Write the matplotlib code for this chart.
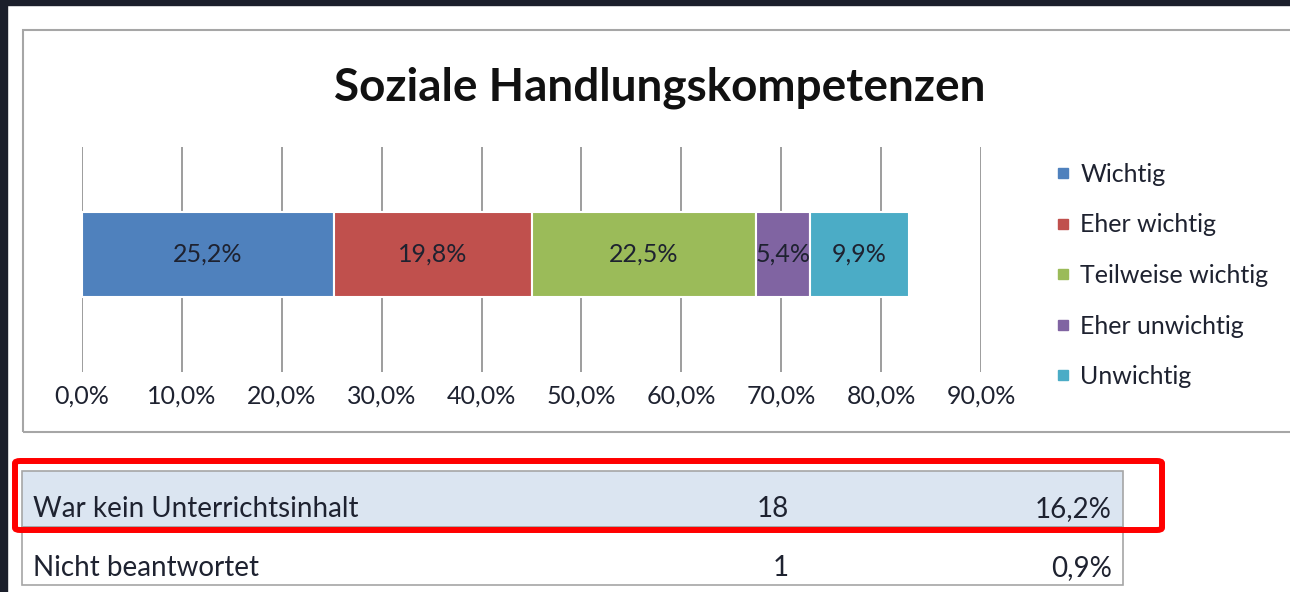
import matplotlib
matplotlib.use("Agg")
import matplotlib.pyplot as plt
from matplotlib.patches import Rectangle, FancyBboxPatch
from matplotlib.lines import Line2D

# ---- data ----
title = "Soziale Handlungskompetenzen"
categories = ["Wichtig", "Eher wichtig", "Teilweise wichtig", "Eher unwichtig", "Unwichtig"]
values = [25.2, 19.8, 22.5, 5.4, 9.9]
value_labels = ["25,2%", "19,8%", "22,5%", "5,4%", "9,9%"]
colors = ["#4F81BD", "#C0504D", "#9BBB59", "#8064A2", "#4BACC6"]
xticks = [0, 10, 20, 30, 40, 50, 60, 70, 80, 90]
xtick_labels = ["0,0%", "10,0%", "20,0%", "30,0%", "40,0%", "50,0%", "60,0%", "70,0%", "80,0%", "90,0%"]
table_labels = ["War kein Unterrichtsinhalt", "Nicht beantwortet"]
table_counts = ["18", "1"]
table_pcts = ["16,2%", "0,9%"]

plt.rcParams['font.family'] = ['Lato', 'DejaVu Sans']
W, H = 1290, 592
fig = plt.figure(figsize=(W / 100, H / 100), dpi=100)
fig.patch.set_facecolor("white")

def fx(x): return x / W
def fy(y): return 1 - y / H

txt_col = "#1e2230"

# dark frame of screenshot
fig.patches.append(Rectangle((0, 0), fx(7), 1, transform=fig.transFigure, color="#1b1f2b", zorder=0))
fig.patches.append(Rectangle((0, fy(5)), 1, 1 - fy(5), transform=fig.transFigure, color="#1b1f2b", zorder=0))

# chart frame
fig.patches.append(Rectangle((fx(23), fy(432)), fx(1300) - fx(23), fy(30) - fy(432),
                             transform=fig.transFigure, facecolor="none", edgecolor="#a6a6a6",
                             linewidth=1.5, zorder=1))

# title
fig.text(fx(660), fy(88), title, ha="center", va="center", fontsize=33, fontweight="bold", color="#111111")

# bar axes
ax = fig.add_axes([fx(82), fy(372), fx(981) - fx(82), fy(147) - fy(372)])
ax.set_xlim(0, 90)
ax.set_ylim(-0.5, 0.5)
left = 0
for v, lab, c, cat in zip(values, value_labels, colors, categories):
    ax.barh(0.022, v, left=left, height=0.378, color=c, edgecolor="white", linewidth=1.5,
            label=cat, zorder=3)
    ax.text(left + v / 2, 0.022, lab, ha="center", va="center", fontsize=18, color=txt_col, zorder=4)
    left += v
ax.set_xticks(xticks)
ax.set_xticklabels(xtick_labels, fontsize=18, color=txt_col)
ax.set_yticks([])
ax.tick_params(axis="x", length=0, pad=9)
ax.grid(axis="x", color="#8c8c8c", linewidth=1.2, zorder=0)
for s in ax.spines.values():
    s.set_visible(False)
ax.patch.set_alpha(0)

# legend
handles = [Line2D([], [], marker="s", linestyle="none", markersize=7, markerfacecolor=c,
                  markeredgecolor=c) for c in colors]
fig.legend(handles, categories, loc="upper left", bbox_to_anchor=(fx(1054), fy(163)),
           frameon=False, fontsize=18, labelspacing=1.1, handletextpad=0.35, handlelength=0.7,
           labelcolor=txt_col, borderpad=0, borderaxespad=0)

# table
row_tops = [471, 527]
row_bottoms = [527, 585]
text_y = [509, 568]
fills = ["#dbe5f1", "white"]
for i in range(2):
    fig.patches.append(Rectangle((fx(22), fy(row_bottoms[i])), fx(1123) - fx(22),
                                 fy(row_tops[i]) - fy(row_bottoms[i]), transform=fig.transFigure,
                                 facecolor=fills[i], edgecolor="#a6a6a6", linewidth=1.2, zorder=1))
    yc = fy(text_y[i])
    fig.text(fx(33), yc, table_labels[i], ha="left", va="center", fontsize=20, color=txt_col)
    fig.text(fx(789), yc, table_counts[i], ha="right", va="center", fontsize=20, color=txt_col)
    fig.text(fx(1112), yc, table_pcts[i], ha="right", va="center", fontsize=20, color=txt_col)

# red highlight box
fig.patches.append(FancyBboxPatch((fx(15), fy(530)), fx(1162) - fx(15), fy(461) - fy(530),
                                  boxstyle="round,pad=0,rounding_size=0.004", transform=fig.transFigure,
                                  facecolor="none", edgecolor="#ff0000", linewidth=4.3, zorder=5))

fig.savefig("out.png", dpi=100)
